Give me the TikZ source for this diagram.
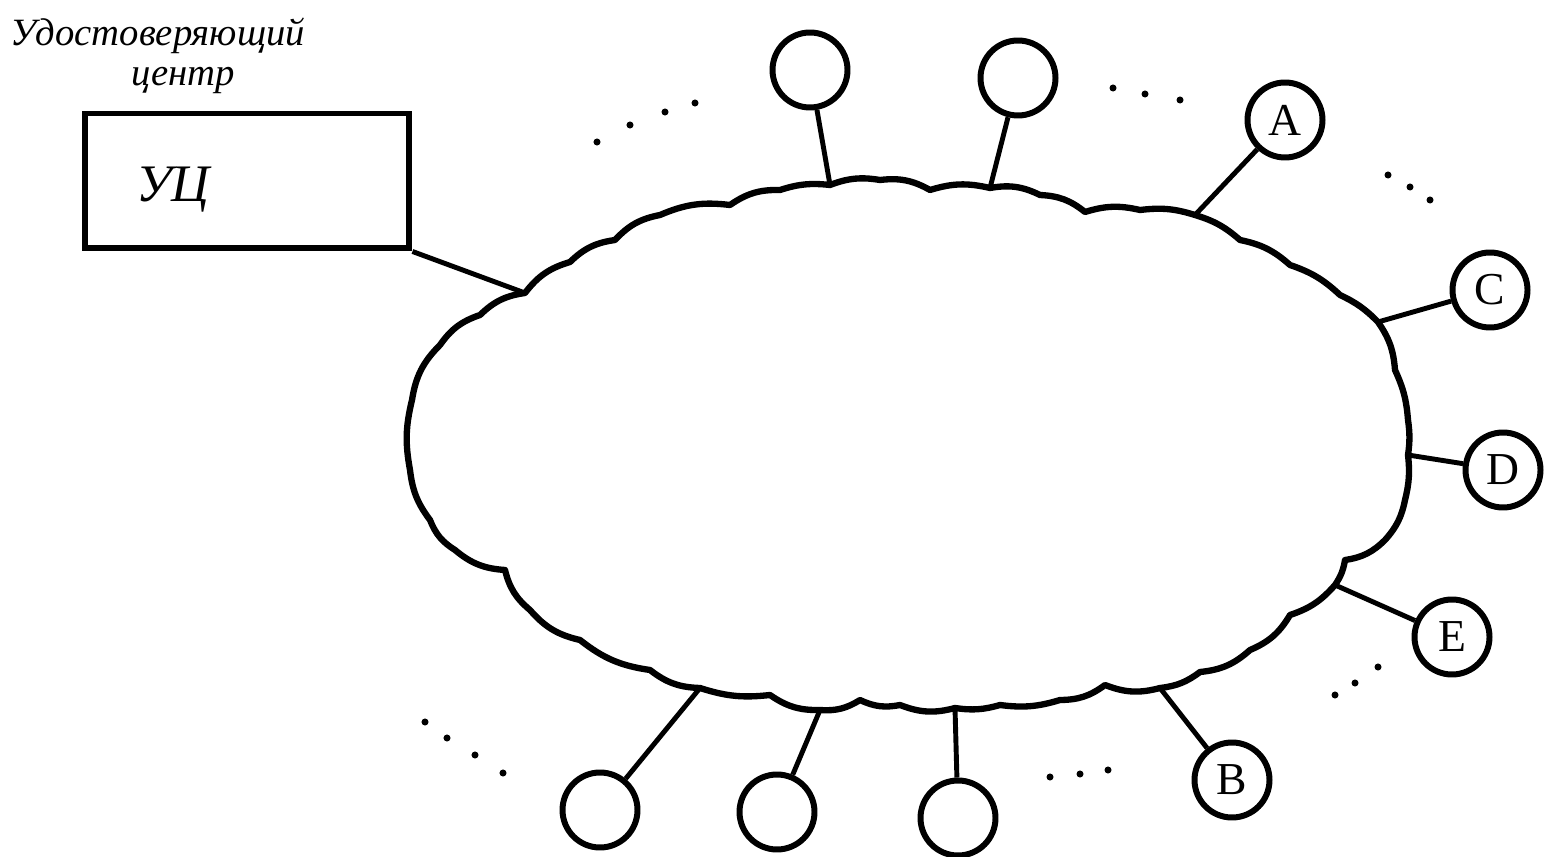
\documentclass[tikz,border=0pt]{standalone}
\usepackage{fontspec}
\setmainfont{Liberation Serif}
\begin{document}
\begin{tikzpicture}[x=0.02cm,y=-0.02cm,
  station/.style={circle,draw,line width=3.4pt,minimum size=1.5cm,inner sep=0pt,font=\fontsize{26}{26}\selectfont},
  link/.style={line width=2.8pt},
  cloudline/.style={line width=3.6pt,line join=round},
  dotmark/.style={fill=black},
  hand/.style={font=\itshape\fontsize{22}{22}\selectfont,inner sep=0pt}
  ]
\useasboundingbox (0,0) rectangle (1547,857);
% attachment points on the cloud
\coordinate (pUC) at (525,293);
\coordinate (pT1) at (830,185);
\coordinate (pT2) at (990,188);
\coordinate (pA) at (1195,215);
\coordinate (pC) at (1378,322);
\coordinate (pD) at (1408,455);
\coordinate (pE) at (1335,585);
\coordinate (pB) at (1160,688);
\coordinate (pB3) at (955,708);
\coordinate (pB2) at (820,710);
\coordinate (pB1) at (700,688);
% cloud
\draw[cloudline]
 (410,470) to[bend left=12] (412,400) to[bend left=18] (440,345) to[bend left=18] (480,315)
 to[bend left=18] (pUC) to[bend left=18] (570,262) to[bend left=18] (615,240)
 to[bend left=18] (660,215) to[bend left=15] (730,205) to[bend left=18] (780,190)
 to[bend left=12] (pT1) to[bend left=15] (880,180) to[bend left=18] (930,190)
 to[bend left=15] (pT2) to[bend left=18] (1040,195) to[bend left=18] (1085,212)
 to[bend left=15] (1140,210) to[bend left=12] (pA) to[bend left=12] (1240,240)
 to[bend left=15] (1290,265) to[bend left=12] (1340,295) to[bend left=10] (pC)
 to[bend left=15] (1395,370) to[bend left=10] (1408,420) to[bend left=8] (pD)
 to[bend left=10] (1405,500) to[bend left=15] (1385,540) to[bend left=18] (1345,560)
 to[bend left=12] (pE) to[bend left=15] (1290,615) to[bend left=18] (1250,650)
 to[bend left=18] (1200,672) to[bend left=15] (pB) to[bend left=18] (1105,685)
 to[bend left=18] (1060,700) to[bend left=12] (1000,705) to[bend left=12] (pB3)
 to[bend left=18] (900,705) to[bend left=18] (860,700) to[bend left=18] (pB2)
 to[bend left=18] (770,695) to[bend left=12] (pB1) to[bend left=18] (650,670)
 to[bend left=15] (580,640) to[bend left=18] (530,610) to[bend left=18] (505,570)
 to[bend left=18] (455,550) to[bend left=18] (430,520) to[bend left=15] (410,470) -- cycle;
% certification centre
\node[draw,line width=3.4pt,minimum width=6.5cm,minimum height=2.7cm,inner sep=0pt] (uc) at (247,181) {};
\node[font=\itshape\fontsize{30}{30}\selectfont,inner sep=0pt] (uclabel) at (173,190) {УЦ};
\node[hand,anchor=base west] (title1) at (10,46) {Удостоверяющий};
\node[hand,anchor=base] (title2) at (183,86) {центр};
% stations
\node[station] (t1) at (810,70) {};
\node[station] (t2) at (1018,78) {};
\node[station] (A) at (1285,120) {A};
\node[station] (C) at (1490,290) {C};
\node[station] (D) at (1503,470) {D};
\node[station] (E) at (1452,637) {E};
\node[station] (B) at (1232,780) {B};
\node[station] (b1) at (600,810) {};
\node[station] (b2) at (777,812) {};
\node[station] (b3) at (958,818) {};
% links
\draw[link] (uc.south east) -- (pUC);
\draw[link] (t1) -- (pT1);
\draw[link] (t2) -- (pT2);
\draw[link] (A) -- (pA);
\draw[link] (C) -- (pC);
\draw[link] (D) -- (pD);
\draw[link] (E) -- (pE);
\draw[link] (B) -- (pB);
\draw[link] (b1) -- (pB1);
\draw[link] (b2) -- (pB2);
\draw[link] (b3) -- (pB3);
% dotted continuations
\foreach \p in {(597,142),(630,125),(665,112),(695,103),
                (1113,88),(1145,94),(1180,100),
                (1388,175),(1410,187),(1430,200),
                (1335,695),(1355,683),(1378,667),
                (425,722),(447,738),(475,755),(503,773),
                (1050,777),(1080,774),(1108,770)}
  \fill[dotmark] \p circle (2pt);
\end{tikzpicture}
\end{document}
